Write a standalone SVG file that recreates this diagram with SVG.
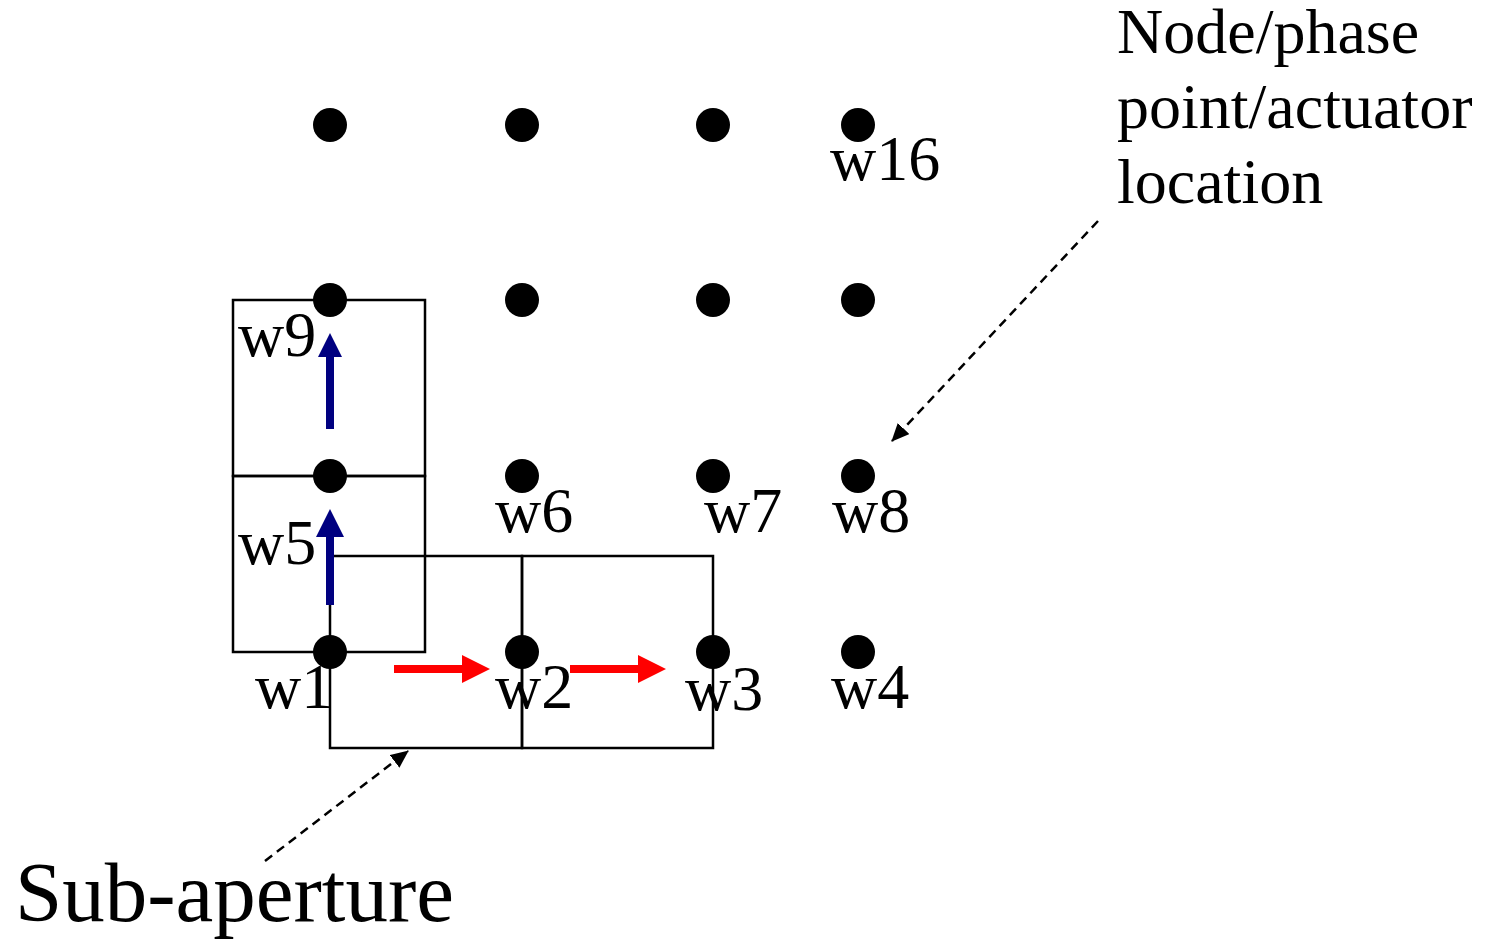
<svg xmlns="http://www.w3.org/2000/svg" width="1490" height="941" viewBox="0 0 1490 941">
<style>
.lbl{font-family:"Liberation Serif","Times New Roman",serif;font-size:64px;fill:#000}
.big{font-family:"Liberation Serif","Times New Roman",serif;font-size:85px;fill:#000}
.dot{fill:#000}
.box{fill:none;stroke:#000;stroke-width:2.5}
.dash{fill:none;stroke:#000;stroke-width:2.5;stroke-dasharray:9 6}
</style>
<defs>
<marker id="ah" markerWidth="10" markerHeight="10" refX="9" refY="5" orient="auto" markerUnits="userSpaceOnUse" viewBox="0 0 10 10">
<path d="M0,0 L10,5 L0,10 z" fill="#000"/>
</marker>
<marker id="ahb" markerWidth="18" markerHeight="16" refX="17" refY="8" orient="auto" markerUnits="userSpaceOnUse" viewBox="0 0 18 16">
<path d="M0,0 L18,8 L0,16 z" fill="#000"/>
</marker>
</defs>
<rect width="1490" height="941" fill="#fff"/>
<g id="subapertures">
<rect class="box" x="233" y="300" width="192" height="176"/>
<rect class="box" x="233" y="476" width="192" height="176"/>
<rect class="box" x="330" y="556" width="192" height="192"/>
<rect class="box" x="522" y="556" width="191" height="192"/>
</g>
<g id="connectors">
<path d="M326,429 V357 H318 L330,333 L342,357 H334 V429 Z" fill="#000080"/>
<path d="M326,605 V537 H316 L330,509 L344,537 H334 V605 Z" fill="#000080"/>
<path d="M394,665 H462 V655 L490,669 L462,683 V673 H394 Z" fill="#ff0000"/>
<path d="M570,665 H638 V655 L666,669 L638,683 V673 H570 Z" fill="#ff0000"/>
<line class="dash" x1="265" y1="861" x2="408" y2="751" marker-end="url(#ahb)"/>
<line class="dash" x1="1098" y1="221" x2="892" y2="441" marker-end="url(#ahb)"/>
</g>
<g id="nodes">
<g id="n13"><circle class="dot" cx="330" cy="125" r="17"/></g>
<g id="n14"><circle class="dot" cx="522" cy="125" r="17"/></g>
<g id="n15"><circle class="dot" cx="713" cy="125" r="17"/></g>
<g id="n16"><circle class="dot" cx="858" cy="125" r="17"/><text class="lbl" x="830" y="180">w16</text></g>
<g id="n9"><circle class="dot" cx="330" cy="300" r="17"/><text class="lbl" x="238" y="356">w9</text></g>
<g id="n10"><circle class="dot" cx="522" cy="300" r="17"/></g>
<g id="n11"><circle class="dot" cx="713" cy="300" r="17"/></g>
<g id="n12"><circle class="dot" cx="858" cy="300" r="17"/></g>
<g id="n5"><circle class="dot" cx="330" cy="476" r="17"/><text class="lbl" x="238" y="564">w5</text></g>
<g id="n6"><circle class="dot" cx="522" cy="476" r="17"/><text class="lbl" x="495" y="532">w6</text></g>
<g id="n7"><circle class="dot" cx="713" cy="476" r="17"/><text class="lbl" x="704" y="532">w7</text></g>
<g id="n8"><circle class="dot" cx="858" cy="476" r="17"/><text class="lbl" x="832" y="532">w8</text></g>
<g id="n1"><circle class="dot" cx="330" cy="652" r="17"/><text class="lbl" x="255" y="708">w1</text></g>
<g id="n2"><circle class="dot" cx="522" cy="652" r="17"/><text class="lbl" x="495" y="708">w2</text></g>
<g id="n3"><circle class="dot" cx="713" cy="652" r="17"/><text class="lbl" x="685" y="710">w3</text></g>
<g id="n4"><circle class="dot" cx="858" cy="652" r="17"/><text class="lbl" x="831" y="708">w4</text></g>
</g>
<g id="labels">
<text class="lbl" x="1117" y="53">Node/phase</text>
<text class="lbl" x="1117" y="128">point/actuator</text>
<text class="lbl" x="1117" y="203">location</text>
<text class="big" x="15" y="921">Sub-aperture</text>
</g>
</svg>
